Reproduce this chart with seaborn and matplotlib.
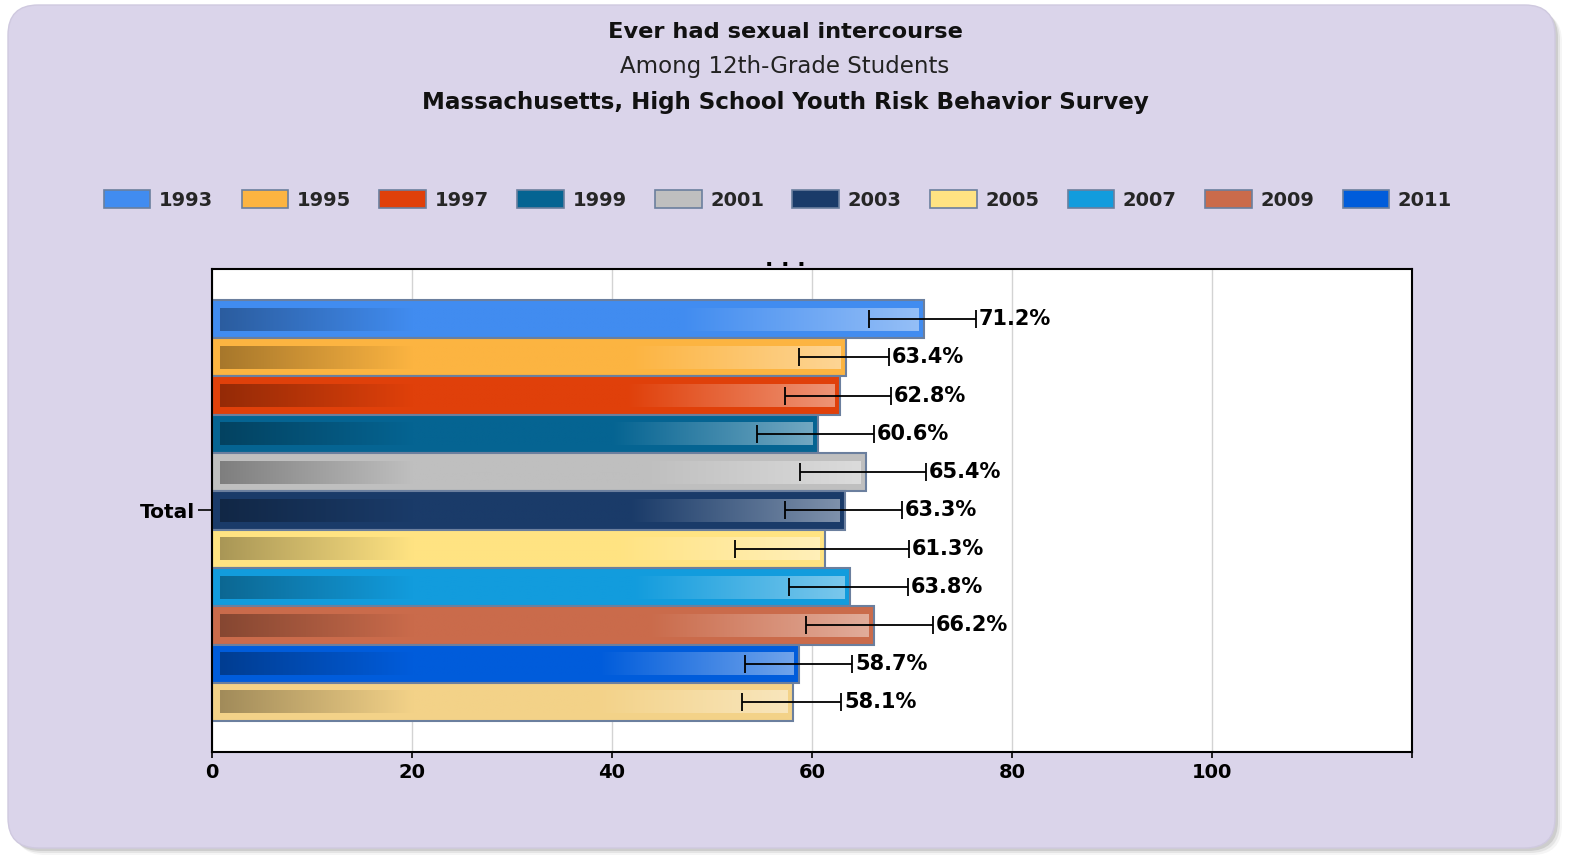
import numpy as np
import pandas as pd
import matplotlib
matplotlib.use('Agg')
import matplotlib.pyplot as plt
from matplotlib.patches import FancyBboxPatch, Patch
from matplotlib.colors import to_rgb
import seaborn as sns

# Data
years = ['1993', '1995', '1997', '1999', '2001', '2003', '2005', '2007', '2009', '2011', '2013']
percent = [71.2, 63.4, 62.8, 60.6, 65.4, 63.3, 61.3, 63.8, 66.2, 58.7, 58.1]
ci_low = [65.7, 58.7, 57.3, 54.5, 58.8, 57.3, 52.3, 57.7, 59.4, 53.3, 53.0]
ci_high = [76.4, 67.7, 67.9, 66.2, 71.4, 69.0, 69.7, 69.6, 72.1, 64.0, 62.9]
colors = ['#418cf0', '#fcb441', '#e0400a', '#056492', '#bfbfbf', '#1a3b69',
          '#ffe382', '#129cdd', '#ca6b4b', '#005cdb', '#f3d288']
legend_years = years[:10]
group = ['Total'] * len(years)
x_ticks = [0, 20, 40, 60, 80, 100, 120]
x_tick_labels = ['0', '20', '40', '60', '80', '100', '']

df = pd.DataFrame({'group': group, 'year': years, 'percent': percent})

sns.set_style('white')
plt.rcParams['font.family'] = ['DejaVu Sans']

fig = plt.figure(figsize=(15.71, 8.55), dpi=100)
fig.patch.set_facecolor('white')

# Rounded lavender panel with a soft shadow
for off, a in [(7, 0.06), (5, 0.10), (3, 0.16)]:
    sh = FancyBboxPatch((0.08 + off / 100, 0.07 - off / 100), 15.47, 8.43,
                        boxstyle='round,pad=0,rounding_size=0.3',
                        transform=fig.dpi_scale_trans, facecolor='#555555',
                        edgecolor='none', alpha=a, zorder=0)
    fig.add_artist(sh)
panel = FancyBboxPatch((0.08, 0.07), 15.47, 8.43,
                       boxstyle='round,pad=0,rounding_size=0.3',
                       transform=fig.dpi_scale_trans, facecolor='#dad4ea',
                       edgecolor='#cfc9df', linewidth=1, zorder=0)
fig.add_artist(panel)

# Titles
fig.text(0.4997, 1 - 32 / 855, 'Ever had sexual intercourse', ha='center', va='center',
         fontsize=16.2, fontweight='bold', color='#111111')
fig.text(0.4997, 1 - 67 / 855, 'Among 12th-Grade Students', ha='center', va='center',
         fontsize=16.5, color='#222222')
fig.text(0.4997, 1 - 102 / 855, 'Massachusetts, High School Youth Risk Behavior Survey',
         ha='center', va='center', fontsize=16.6, fontweight='bold', color='#111111')
fig.text(0.4997, 1 - 266 / 855, '. . .', ha='center', va='baseline',
         fontsize=16, fontweight='bold', color='black')

ax = fig.add_axes([212 / 1571, 1 - 752 / 855, 1200 / 1571, 483 / 855])
ax.set_facecolor('white')

sns.barplot(data=df, x='percent', y='group', hue='year', hue_order=years,
            palette=dict(zip(years, colors)), orient='h', width=0.872,
            errorbar=None, saturation=1, edgecolor='#6b7f9e', linewidth=1.5,
            legend=False, ax=ax)

# gradient shading, error bars and value labels for every bar
for cont, c, v, lo, hi in zip(ax.containers, colors, percent, ci_low, ci_high):
    bar = cont.patches[0]
    y0, h, w = bar.get_y(), bar.get_height(), bar.get_width()
    yc = y0 + h / 2
    x0, x1 = bar.get_x() + 0.75, bar.get_x() + w - 0.6
    xs = np.linspace(x0, x1, 400)
    base = np.array(to_rgb(c))
    dark = np.clip(1 - xs / 20, 0, 1) * 0.35
    light = np.clip((xs - 0.66 * v) / (0.34 * v), 0, 1) * 0.45
    rgb = base[None, :] * (1 - dark[:, None])
    rgb = rgb * (1 - light[:, None]) + light[:, None]
    ax.imshow(rgb[None, :, :], extent=[x0, x1, y0 + h * 0.8, y0 + h * 0.2],
              aspect='auto', interpolation='bilinear', zorder=bar.get_zorder() + 0.5)
    ax.errorbar(v, yc, xerr=[[v - lo], [hi - v]], fmt='none', ecolor='black',
                elinewidth=1.3, capsize=6.5, capthick=1.3, zorder=5)
    ax.text(hi + 0.3, yc, f'{v}%', ha='left', va='center', fontsize=15,
            fontweight='bold', color='black', zorder=6)

ax.set_xlim(0, 120)
ax.set_ylim(0.5, -0.5)
ax.set_xticks(x_ticks)
ax.set_xticklabels(x_tick_labels)
ax.set_xlabel('')
ax.set_ylabel('')
ax.xaxis.grid(True, color='#d3d3d3', linewidth=1)
ax.set_axisbelow(True)
ax.tick_params(axis='x', bottom=True, length=4, width=1.2, labelsize=14, pad=4, colors='black')
ax.tick_params(axis='y', left=True, length=10, width=1.2, labelsize=14.5, pad=2, colors='black')
for lbl in ax.get_xticklabels() + ax.get_yticklabels():
    lbl.set_fontweight('bold')
for sp in ax.spines.values():
    sp.set_color('black')
    sp.set_linewidth(1.5)

# Legend (only the first ten years are shown in the original)
handles = [Patch(facecolor=c, edgecolor='#6b7f9e', linewidth=1.2) for c in colors[:10]]
fig.legend(handles, legend_years, loc='center', bbox_to_anchor=(778 / 1571, 1 - 200 / 855),
           ncol=10, frameon=False, prop=dict(weight='bold', size=14),
           handlelength=2.4, handleheight=1.0, handletextpad=0.45, columnspacing=1.45)

fig.savefig('out.png', dpi=100)
